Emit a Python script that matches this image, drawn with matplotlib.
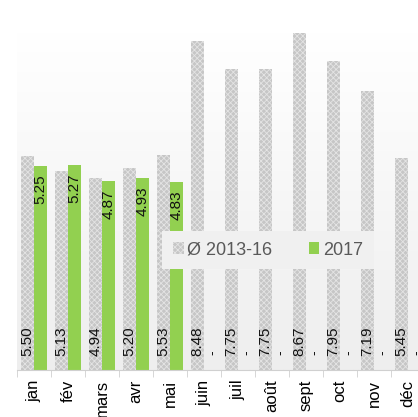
import matplotlib
matplotlib.use('Agg')
import numpy as np
import matplotlib.pyplot as plt
from matplotlib.patches import Patch

plt.rcParams['font.family'] = ['Liberation Sans', 'DejaVu Sans']
plt.rcParams['hatch.linewidth'] = 0.6

# data
months = ['jan', 'fév', 'mars', 'avr', 'mai', 'juin', 'juil', 'août',
          'sept', 'oct', 'nov', 'déc']
avg_2013_16 = [5.50, 5.13, 4.94, 5.20, 5.53, 8.48, 7.75, 7.75, 8.67, 7.95, 7.19, 5.45]
val_2017 = [5.25, 5.27, 4.87, 4.93, 4.83]

GRAY = '#c6c6c6'
HATCH = '#e4e4e4'
GREEN = '#92d050'

fig = plt.figure(figsize=(4.18, 4.17), dpi=100, facecolor='white')
ax = fig.add_axes([17/418, 47/417, 408/418, 338/417])

# soft vertical gradient behind the bars (white at top, light grey at bottom)
grad = np.linspace(0, 1, 256).reshape(-1, 1)
ax.imshow(grad, extent=[0, 1, 0, 1], transform=ax.transAxes, aspect='auto', origin='lower',
          cmap=matplotlib.colors.LinearSegmentedColormap.from_list('g', ['#eeeeee', '#ffffff']),
          zorder=0)

x = np.arange(len(months))
w = 0.39
ax.bar(x - w/2, avg_2013_16, w, color=GRAY, edgecolor=HATCH, hatch='xxxxxx',
       linewidth=0, zorder=2)
x17 = x[:len(val_2017)]
ax.bar(x17 + w/2, val_2017, w, color=GREEN, linewidth=0, zorder=2)

for xi, v in zip(x, avg_2013_16):
    ax.annotate('%.2f' % v, (xi - w/2, 0), xytext=(0, 10), textcoords='offset points',
                rotation=90, ha='center', va='bottom', fontsize=11, color='#111111', zorder=3)
for xi in x:
    if xi < len(val_2017):
        v = val_2017[xi]
        ax.annotate('%.2f' % v, (xi + w/2, v), xytext=(0, -6), textcoords='offset points',
                    rotation=90, ha='center', va='top', fontsize=11, color='#111111', zorder=3)
    else:
        # no 2017 value yet
        ax.annotate('-', (xi + w/2, 0), xytext=(1, 11), textcoords='offset points',
                    rotation=90, ha='center', va='bottom', fontsize=10, color='#111111', zorder=3)

ax.set_xlim(-0.5, len(months) - 0.5)
ax.set_ylim(0, 8.7)
ax.set_yticks([])
ax.set_xticks(x)
ax.set_xticklabels(months, rotation=90, fontsize=12)
ax.set_xticks(np.arange(-0.5, len(months)), minor=True)
ax.tick_params(axis='x', which='major', length=0, pad=7)
ax.tick_params(axis='x', which='minor', length=5, color='#d0d0d0')
for s in ['top', 'right', 'left']:
    ax.spines[s].set_visible(False)
ax.spines['bottom'].set_color('#d0d0d0')

handles = [Patch(facecolor=GRAY, edgecolor=HATCH, hatch='xxxxxx', linewidth=0),
           Patch(facecolor=GREEN, linewidth=0)]
leg = fig.legend(handles, ['Ø 2013-16', '2017'], ncol=2, loc='center',
                 bbox_to_anchor=(268/418, 1 - 250/417), fontsize=13,
                 frameon=True, fancybox=False, handlelength=0.6, handleheight=0.6,
                 handletextpad=0.2, columnspacing=2.0, borderpad=0.6)
leg.get_frame().set_facecolor('#f0f0f0')
leg.get_frame().set_edgecolor('none')
leg.get_frame().set_alpha(1)
for t in leg.get_texts():
    t.set_color('#595959')
leg.set_zorder(5)

fig.savefig('out.png', dpi=100)
